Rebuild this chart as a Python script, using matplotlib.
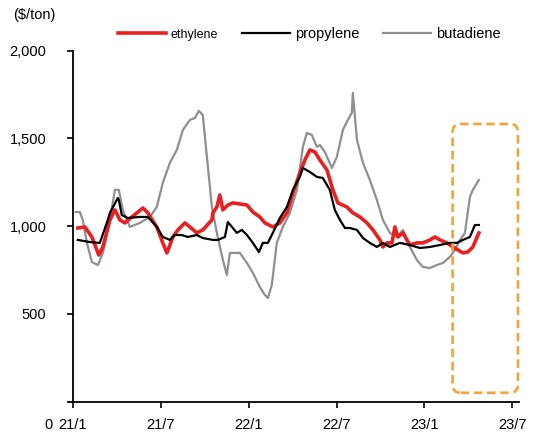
import matplotlib
matplotlib.use("Agg")
import matplotlib.pyplot as plt
from matplotlib.patches import FancyBboxPatch
from matplotlib.lines import Line2D

plt.rcParams['font.family'] = ['Liberation Sans', 'DejaVu Sans']

# x positions: months since 2021/1
eth_x = [0.34, 0.82, 1.30, 1.77, 2.05, 2.53, 2.87, 3.21, 3.55, 4.03, 4.78, 5.12, 5.73, 6.14, 6.42,
         6.83, 7.17, 7.65, 7.99, 8.46, 8.87, 9.49, 9.56, 9.83, 10.03, 10.24, 10.58, 10.92, 11.88,
         12.29, 12.76, 13.11, 13.65, 14.13, 14.61, 15.02, 15.49, 15.84, 16.18, 16.52, 16.86, 17.34,
         17.75, 18.09, 18.70, 19.11, 19.59, 20.07, 20.48, 20.96, 21.16, 21.43, 21.78, 21.98, 22.18,
         22.53, 23.00, 23.48, 23.89, 24.37, 24.71, 25.05, 25.53, 25.94, 26.28, 26.62, 26.96, 27.30, 27.71]
eth_y = [989, 995, 938, 835, 881, 1035, 1092, 1035, 1018, 1052, 1103, 1075, 995, 904, 847,
         938, 978, 1018, 995, 961, 978, 1035, 1075, 1109, 1177, 1092, 1120, 1132, 1120,
         1080, 1052, 1018, 995, 1018, 1075, 1189, 1303, 1377, 1434, 1422, 1377, 1320,
         1206, 1132, 1109, 1075, 1052, 1018, 978, 921, 881, 904, 904, 995, 938,
         961, 892, 904, 904, 921, 938, 921, 904, 881, 864, 847, 852, 881, 961]

pro_x = [0.34, 1.16, 1.84, 2.39, 2.53, 3.07, 3.14, 3.34, 3.75, 4.57, 5.12, 5.73, 6.14, 6.62, 6.96,
         7.44, 7.85, 8.46, 8.87, 9.56, 9.90, 10.38, 10.58, 10.92, 11.19, 11.54, 11.88, 12.29, 12.70,
         12.97, 13.31, 13.65, 14.13, 14.61, 15.02, 15.49, 15.70, 16.18, 16.66, 17.06, 17.54, 17.88,
         18.23, 18.57, 18.91, 19.39, 19.80, 20.27, 20.75, 21.16, 21.64, 22.32, 23.00, 23.69, 24.37,
         25.05, 25.73, 26.21, 26.62, 27.10, 27.44, 27.71]
pro_y = [921, 909, 904, 1035, 1075, 1160, 1149, 1063, 1046, 1052, 1052, 995, 938, 921, 949,
         949, 938, 949, 932, 921, 921, 938, 1023, 989, 961, 978, 949, 904, 852,
         904, 904, 961, 1046, 1109, 1206, 1280, 1331, 1308, 1280, 1274, 1206, 1092,
         1035, 989, 989, 978, 932, 904, 881, 904, 881, 904, 892, 875, 881,
         892, 904, 904, 921, 938, 1006, 1006]

but_x = [0.20, 0.48, 0.68, 0.96, 1.30, 1.71, 2.05, 2.53, 2.87, 3.14, 3.41, 3.89, 4.57, 5.26, 5.73,
         6.14, 6.62, 7.10, 7.51, 7.99, 8.33, 8.60, 8.87, 9.15, 9.49, 9.83, 10.24, 10.51, 10.72,
         11.40, 11.88, 12.29, 12.76, 13.11, 13.31, 13.58, 13.92, 14.33, 14.81, 15.29, 15.70, 15.97,
         16.31, 16.66, 16.86, 17.20, 17.68, 18.02, 18.43, 18.77, 19.04, 19.11, 19.39, 19.80, 20.27,
         20.75, 21.16, 21.64, 22.12, 22.53, 23.00, 23.48, 23.89, 24.37, 24.85, 25.26, 25.73, 26.08,
         26.42, 26.76, 27.10, 27.30, 27.71]
but_y = [1080, 1080, 1035, 904, 795, 778, 847, 1035, 1206, 1206, 1092, 995, 1018, 1052, 1109,
         1246, 1360, 1434, 1548, 1605, 1616, 1656, 1633, 1394, 1109, 961, 807, 721, 847,
         847, 790, 733, 653, 607, 590, 664, 904, 995, 1075, 1206, 1451, 1531,
         1519, 1451, 1462, 1422, 1331, 1394, 1548, 1605, 1645, 1759, 1491, 1360, 1263,
         1149, 1035, 961, 938, 978, 881, 807, 767, 761, 778, 790, 824, 864,
         921, 961, 1166, 1206, 1263]

tick_pos = [0, 6, 12, 18, 24, 30]
tick_labels = ["21/1", "21/7", "22/1", "22/7", "23/1", "23/7"]
ytick_pos = [500, 1000, 1500, 2000]
ytick_labels = ["500", "1,000", "1,500", "2,000"]

RED = "#ea1f1f"
GRAY = "#8f8f8f"
ORANGE = "#f2a43a"

fig = plt.figure(figsize=(5.57, 4.36), dpi=100)
ax = fig.add_axes([68 / 557, 0.079, (519 - 68) / 557, 0.805])

ax.plot(but_x, but_y, color=GRAY, lw=1.6, zorder=2)
ax.plot(eth_x, eth_y, color=RED, lw=2.6, zorder=3)
ax.plot(pro_x, pro_y, color="black", lw=1.6, zorder=4)

ax.set_xlim(-0.33, 30.45)
ax.set_ylim(0, 2000)
ax.spines['left'].set_position(('data', 0))
ax.set_xticks(tick_pos)
ax.set_xticklabels(tick_labels)
ax.set_yticks(ytick_pos)
ax.set_yticklabels(ytick_labels)
ax.tick_params(axis='x', length=4, width=1.2, pad=8, labelsize=10.5)
ax.tick_params(axis='y', length=4, width=1.2, pad=15, labelsize=10.5)
for s in ['top', 'right']:
    ax.spines[s].set_visible(False)
for s in ['left', 'bottom']:
    ax.spines[s].set_linewidth(1.3)

# highlight box
box = FancyBboxPatch((25.92, 50), 30.38 - 25.92, 1582 - 50,
                     boxstyle="round,pad=0,rounding_size=0.55",
                     mutation_aspect=83.5, fill=False, edgecolor=ORANGE,
                     lw=1.9, ls=(0, (3.2, 1.8)), zorder=5, clip_on=False)
ax.add_patch(box)

fig.text(53 / 557, 1 - 425 / 436, "0", ha='right', va='center', fontsize=10.5)
fig.text(13 / 557, 1 - 15 / 436, "($/ton)", ha='left', va='center', fontsize=10.5)

handles = [Line2D([], [], color=RED, lw=2.6),
           Line2D([], [], color="black", lw=1.6),
           Line2D([], [], color=GRAY, lw=1.6)]
leg = fig.legend(handles, ["ethylene", "propylene", "butadiene"], ncol=3,
                 loc='center', bbox_to_anchor=(309 / 557, 1 - 34 / 436),
                 frameon=False, fontsize=10.5, handlelength=3.3,
                 handletextpad=0.35, columnspacing=1.6, borderpad=0, borderaxespad=0)
leg.get_texts()[0].set_fontsize(9)

fig.savefig("out.png", dpi=100)
